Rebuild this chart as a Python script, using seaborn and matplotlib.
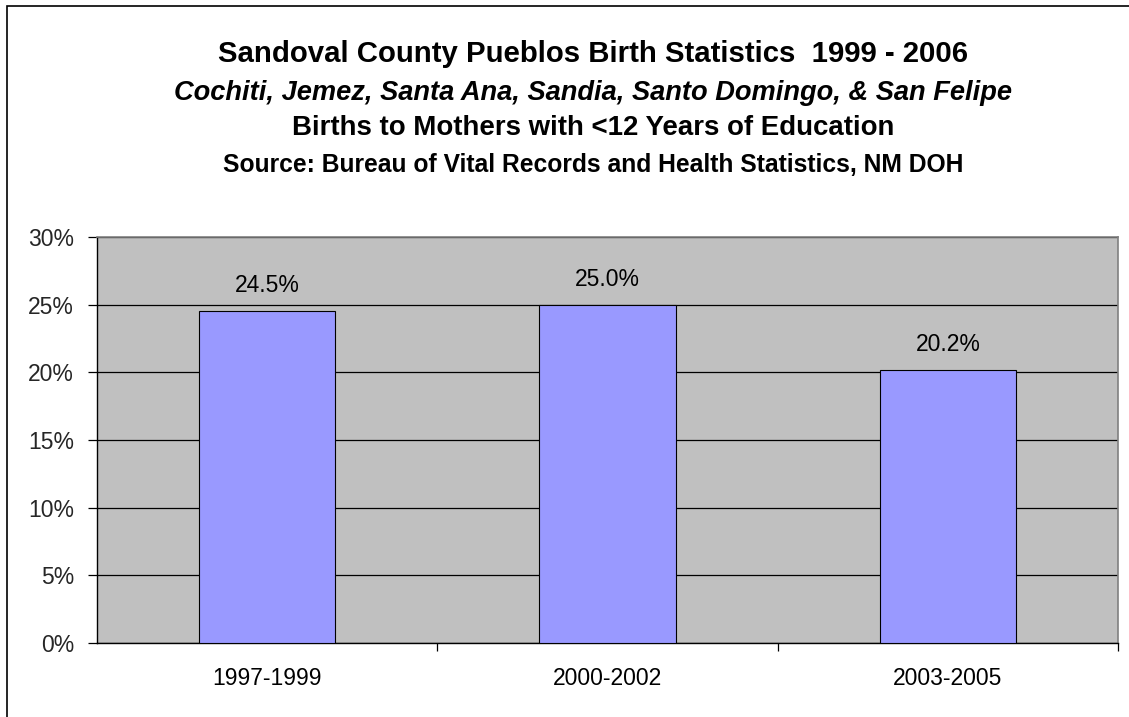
import matplotlib
matplotlib.use("Agg")
import matplotlib.pyplot as plt
from matplotlib.patches import Rectangle
from matplotlib.ticker import PercentFormatter, FixedLocator
import seaborn as sns
import pandas as pd

periods = ["1997-1999", "2000-2002", "2003-2005"]
pct_low_education = [24.5, 25.0, 20.2]

title_lines = [
    ("Sandoval County Pueblos Birth Statistics  1999 - 2006", "bold", "normal", 21.2),
    ("Cochiti, Jemez, Santa Ana, Sandia, Santo Domingo, & San Felipe", "bold", "italic", 19.65),
    ("Births to Mothers with <12 Years of Education", "bold", "normal", 19.9),
    ("Source: Bureau of Vital Records and Health Statistics, NM DOH", "bold", "normal", 17.7),
]

df = pd.DataFrame({"period": periods, "pct": pct_low_education})

sns.set_theme(style="white")
plt.rcParams["font.family"] = ["Liberation Sans", "DejaVu Sans"]

W, H = 1129, 717
fig = plt.figure(figsize=(W / 100, H / 100), dpi=100)
ax = fig.add_axes([97 / W, 1 - 643 / H, (1118 - 97) / W, (643 - 237) / H])

ax.set_facecolor("#C0C0C0")
sns.barplot(data=df, x="period", y="pct", ax=ax, color="#9999FF",
            saturation=1, width=0.4, edgecolor="black", linewidth=0.8, zorder=3)

ax.set_ylim(0, 30)
ax.set_xlim(-0.5, 2.5)
ax.yaxis.set_major_locator(FixedLocator([0, 5, 10, 15, 20, 25, 30]))
ax.yaxis.set_major_formatter(PercentFormatter(decimals=0))
ax.grid(axis="y", color="black", linewidth=0.9, zorder=1)
ax.grid(axis="x", visible=False)
ax.set_xlabel("")
ax.set_ylabel("")

ax.tick_params(axis="y", which="major", direction="out", length=6.5, width=0.9,
               color="black", labelsize=16.5, pad=10, left=True)
ax.tick_params(axis="x", which="major", length=0, labelsize=16.5, pad=17, colors="black")
ax.set_xticks([x for x in range(len(periods))], periods)

# category separators on the x axis
ax.set_xticks([0.5, 1.5, 2.5], minor=True)
ax.tick_params(axis="x", which="minor", direction="out", length=6, width=0.9,
               color="black", bottom=True)

for side in ["top", "right"]:
    ax.spines[side].set_color("#808080")
    ax.spines[side].set_linewidth(1.2)
for side in ["left", "bottom"]:
    ax.spines[side].set_color("black")
    ax.spines[side].set_linewidth(1.0)

for i, v in enumerate(pct_low_education):
    ax.annotate(f"{v:.1f}%", (i, v), xytext=(0, 13.7), textcoords="offset points",
                ha="center", va="baseline", fontsize=16.5, color="black")

ys = [54, 93, 128, 165]
for (txt, weight, style, size), y in zip(title_lines, ys):
    fig.text(593 / W, 1 - y / H, txt, ha="center", va="center",
             fontsize=size, fontweight=weight, fontstyle=style, color="black")

# chart frame
fig.patches.append(Rectangle((7 / W, -0.1), 1.2, 1 - 6 / H + 0.1,
                             transform=fig.transFigure, fill=False,
                             edgecolor="black", linewidth=1.2))

fig.savefig("out.png", dpi=100, facecolor="white")
